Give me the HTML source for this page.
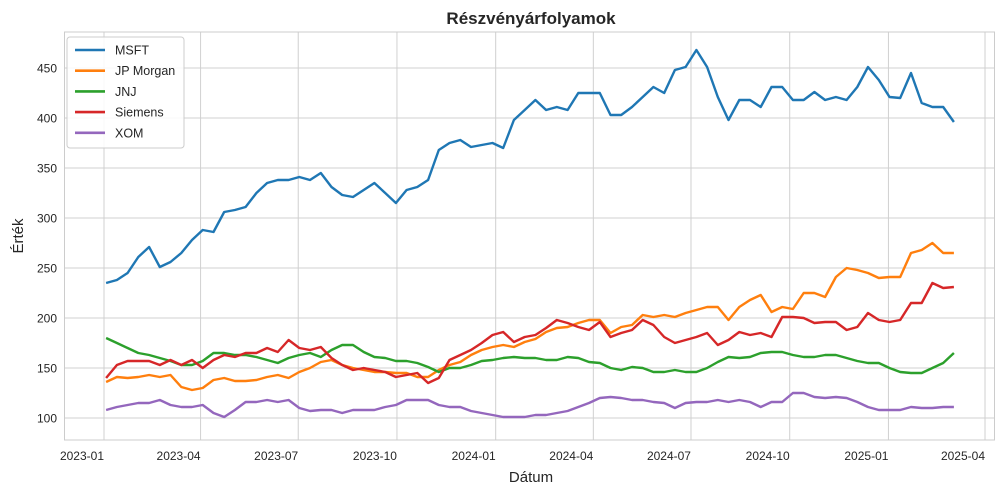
<!DOCTYPE html>
<html><head><meta charset="utf-8"><style>
body{margin:0;background:#fff;font-family:"Liberation Sans",sans-serif}
svg text{font-family:"Liberation Sans",sans-serif;fill:#262626}
</style></head><body>
<svg id="chart" width="1003" height="494" viewBox="0 0 1003 494" xmlns="http://www.w3.org/2000/svg">
<text x="531" y="24" text-anchor="middle" font-size="17" font-weight="bold">Részvényárfolyamok</text>
<g id="grid"></g>
<g id="series"></g>
<rect x="64.5" y="32" width="930" height="408" fill="none" stroke="#ccc" stroke-width="1"/>
<text x="531" y="482" text-anchor="middle" font-size="15">Dátum</text>
<text transform="translate(23,236) rotate(-90)" text-anchor="middle" font-size="15">Érték</text>
<g id="legend"></g>
</svg>
<script>
const startDate = "2023-01-03";
const stepDays = 10;
const msft = [235,238,245,261,271,251,256,265,278,288,286,306,308,311,325,335,338,338,341,338,345,331,323,321,328,335,325,315,328,331,338,368,375,378,371,373,375,370,398,408,418,408,411,408,425,425,425,403,403,411,421,431,425,448,451,468,451,421,398,418,418,411,431,431,418,418,426,418,421,418,431,451,438,421,420,445,415,411,411,396];
const jpm = [136,141,140,141,143,141,143,131,128,130,138,140,137,137,138,141,143,140,146,150,156,158,153,150,148,146,146,145,145,141,141,148,153,156,163,168,171,173,171,176,179,186,190,191,195,198,198,185,191,193,203,201,203,201,205,208,211,211,198,211,218,223,206,211,209,225,225,221,241,250,248,245,240,241,241,265,268,275,265,265];
const jnj = [180,175,170,165,163,160,157,153,153,157,165,165,163,163,161,158,155,160,163,165,161,168,173,173,166,161,160,157,157,155,151,146,150,150,153,157,158,160,161,160,160,158,158,161,160,156,155,150,148,151,150,146,146,148,146,146,150,156,161,160,161,165,166,166,163,161,161,163,163,160,157,155,155,150,146,145,145,150,155,165];
const siemens = [140,153,157,157,157,153,158,153,158,150,158,163,161,165,165,170,166,178,170,168,171,160,153,148,150,148,146,141,143,145,135,140,158,163,168,175,183,186,176,181,183,190,198,195,191,188,196,181,185,188,198,193,181,175,178,181,185,173,178,186,183,185,181,201,201,200,195,196,196,188,191,205,198,196,198,215,215,235,230,231];
const xom = [108,111,113,115,115,118,113,111,111,113,105,101,108,116,116,118,116,118,110,107,108,108,105,108,108,108,111,113,118,118,118,113,111,111,107,105,103,101,101,101,103,103,105,107,111,115,120,121,120,118,118,116,115,110,115,116,116,118,116,118,116,111,116,116,125,125,121,120,121,120,116,111,108,108,108,111,110,110,111,111];
const seriesNames = ["MSFT","JP Morgan","JNJ","Siemens","XOM"];
const yTicks = [100,150,200,250,300,350,400,450];
const xTickLabels = ["2023-01","2023-04","2023-07","2023-10","2024-01","2024-04","2024-07","2024-10","2025-01","2025-04"];

const NS="http://www.w3.org/2000/svg";
const colors=["#1f77b4","#ff7f0e","#2ca02c","#d62728","#9467bd"];
const seriesData=[msft,jpm,jnj,siemens,xom];
const origin=Date.UTC(2023,0,1);
function dayOf(s){const p=s.split("-").map(Number);return (Date.UTC(p[0],p[1]-1,p[2]||1)-origin)/864e5;}
function xScale(d){return 104+d*1.0731;}
function yScale(v){return 418-(v-100)*1.0;}
function mk(t,a,parent){const e=document.createElementNS(NS,t);for(const k in a)e.setAttribute(k,a[k]);parent.appendChild(e);return e;}
const grid=document.getElementById("grid");
yTicks.forEach(v=>{
  const l=mk("line",{x1:65,x2:994,y1:yScale(v),y2:yScale(v),stroke:"#d0d0d0","stroke-width":1},grid);
  
  
  const t=mk("text",{x:57,y:yScale(v)+4.5,"text-anchor":"end","font-size":12},grid);
  t.textContent=v;
  
  
});
xTickLabels.forEach(s=>{
  const x=xScale(dayOf(s));
  const l=mk("line",{x1:x,x2:x,y1:32,y2:440,stroke:"#d0d0d0","stroke-width":1},grid);
  
  
  const t=mk("text",{x:x,y:460,"text-anchor":"end","font-size":12},grid);
  t.textContent=s;
  
  
});
const sg=document.getElementById("series");
const d0=dayOf(startDate);
seriesData.forEach((arr,si)=>{
  const pts=arr.map((v,i)=>xScale(d0+i*stepDays).toFixed(1)+","+yScale(v).toFixed(1)).join(" ");
  const p=mk("polyline",{points:pts,fill:"none",stroke:colors[si],"stroke-width":2.4,"stroke-linejoin":"round"},sg);
  
  
});
const lg=document.getElementById("legend");
const box=mk("rect",{x:67,y:37,width:117,height:111,rx:3,fill:"#fff","fill-opacity":0.85,stroke:"#ccc"},lg);


seriesNames.forEach((n,i)=>{
  const y=50+i*20.7;
  const l=mk("line",{x1:75,x2:105,y1:y,y2:y,stroke:colors[i],"stroke-width":2.6},lg);
  
  
  const t=mk("text",{x:115,y:y+4.5,"font-size":12.5},lg);
  t.textContent=n;
  
  
});
</script>
</body></html>
